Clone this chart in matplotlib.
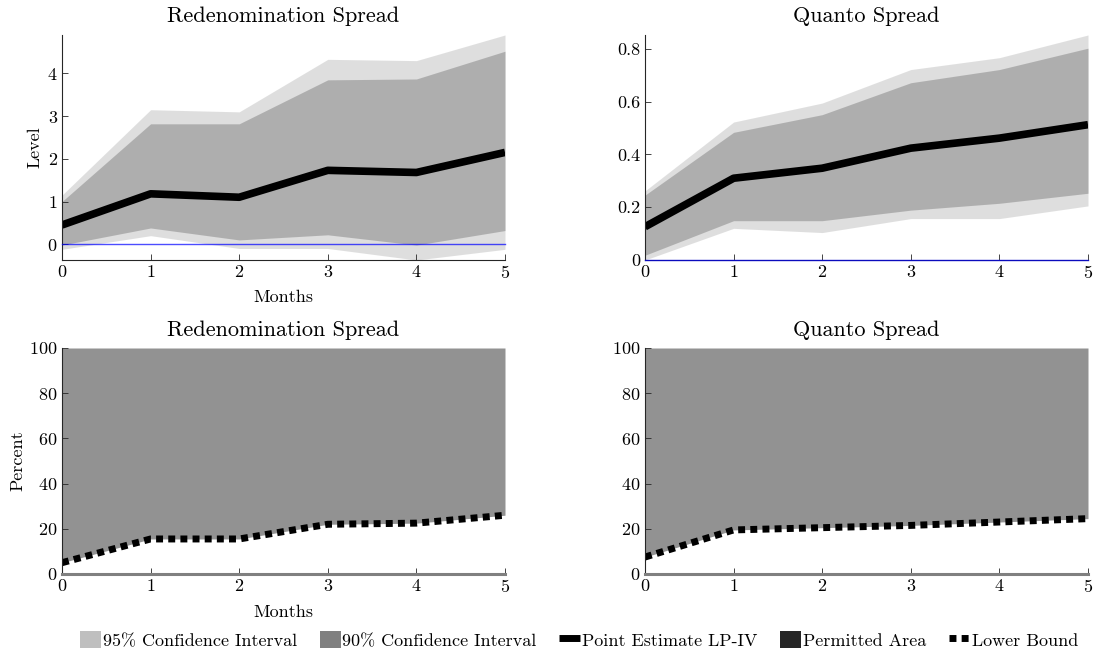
import matplotlib
matplotlib.use("Agg")
import matplotlib.pyplot as plt
from matplotlib.patches import Patch
from matplotlib.lines import Line2D
import numpy as np

plt.rcParams['font.family'] = 'serif'
plt.rcParams['font.serif'] = ['cmr10', 'DejaVu Serif']
plt.rcParams['mathtext.fontset'] = 'cm'
plt.rcParams['axes.formatter.use_mathtext'] = True

months = [0, 1, 2, 3, 4, 5]

# Redenomination spread (level)
redenom_point = [0.45, 1.18, 1.10, 1.73, 1.68, 2.15]
redenom_90_lo = [-0.02, 0.38, 0.10, 0.22, -0.02, 0.32]
redenom_90_hi = [1.00, 2.82, 2.82, 3.85, 3.87, 4.52]
redenom_95_lo = [-0.12, 0.20, -0.10, -0.10, -0.37, -0.12]
redenom_95_hi = [1.15, 3.15, 3.10, 4.33, 4.30, 4.90]

# Quanto spread (level)
quanto_point = [0.126, 0.310, 0.348, 0.424, 0.462, 0.513]
quanto_90_lo = [0.018, 0.149, 0.149, 0.189, 0.215, 0.253]
quanto_90_hi = [0.246, 0.484, 0.551, 0.672, 0.722, 0.803]
quanto_95_lo = [0.000, 0.120, 0.104, 0.157, 0.157, 0.205]
quanto_95_hi = [0.262, 0.523, 0.595, 0.722, 0.767, 0.853]

# Lower bounds (percent)
redenom_lb = [5.0, 15.5, 15.5, 22.0, 22.5, 26.0]
quanto_lb = [7.5, 19.5, 20.5, 21.5, 23.0, 24.5]

titles = ['Redenomination Spread', 'Quanto Spread']

c95 = (0.75, 0.75, 0.75)
c90 = (0.5, 0.5, 0.5)
cperm = (0.15, 0.15, 0.15)
spine_col = '#262626'
dot_dash = (1.0, 0.75)
fs = 13

fig = plt.figure(figsize=(10.94, 6.54), dpi=100)
ax_w = 443 / 1094
pos = {
    (0, 0): [62 / 1094, 1 - 260 / 654, ax_w, 225 / 654],
    (0, 1): [645 / 1094, 1 - 260 / 654, ax_w, 225 / 654],
    (1, 0): [62 / 1094, 1 - 574 / 654, ax_w, 226 / 654],
    (1, 1): [645 / 1094, 1 - 574 / 654, ax_w, 226 / 654],
}


def style(ax):
    for s in ['top', 'right']:
        ax.spines[s].set_visible(False)
    for s in ['left', 'bottom']:
        ax.spines[s].set_color(spine_col)
        ax.spines[s].set_linewidth(0.8)
    ax.tick_params(direction='in', length=4, width=0.6, colors=spine_col,
                   labelsize=fs, labelcolor='black', pad=3)
    ax.set_xlim(0, 5)
    ax.set_xticks(months)


top_data = [
    (redenom_point, redenom_90_lo, redenom_90_hi, redenom_95_lo, redenom_95_hi),
    (quanto_point, quanto_90_lo, quanto_90_hi, quanto_95_lo, quanto_95_hi),
]

for j, (pt, lo90, hi90, lo95, hi95) in enumerate(top_data):
    ax = fig.add_axes(pos[(0, j)])
    ax.fill_between(months, lo95, hi95, color=c95, alpha=0.5, lw=0)
    ax.fill_between(months, lo90, hi90, color=c90, alpha=0.5, lw=0)
    ax.plot(months, pt, color='black', lw=5.5, solid_capstyle='butt')
    ax.axhline(0, color='blue', lw=1, alpha=0.7, zorder=3, clip_on=False)
    style(ax)
    ax.set_ylim(min(lo95), max(hi95))
    ax.set_title(titles[j], fontsize=16, pad=9)
    if j == 0:
        ax.set_ylabel('Level', fontsize=fs, labelpad=3.5)
        ax.set_xlabel('Months', fontsize=fs, labelpad=6)
        ax.set_yticks([0, 1, 2, 3, 4])
    else:
        ax.set_yticks([0, 0.2, 0.4, 0.6, 0.8])
        ax.set_yticklabels(['0', '0.2', '0.4', '0.6', '0.8'])

for j, lb in enumerate([redenom_lb, quanto_lb]):
    ax = fig.add_axes(pos[(1, j)])
    ax.fill_between(months, lb, 100, color=cperm, alpha=0.5, lw=0)
    ax.plot(months, lb, color='black', lw=5, dashes=dot_dash,
            dash_capstyle='butt')
    ax.axhline(0, color='#808080', lw=2.2, zorder=3, clip_on=False)
    style(ax)
    ax.set_ylim(0, 100)
    ax.set_yticks([0, 20, 40, 60, 80, 100])
    ax.set_title(titles[j], fontsize=16, pad=9)
    if j == 0:
        ax.set_ylabel('Percent', fontsize=fs, labelpad=3)
        ax.set_xlabel('Months', fontsize=fs, labelpad=7)

handles = [
    Patch(facecolor=c95, edgecolor='none'),
    Patch(facecolor=c90, edgecolor='none'),
    Line2D([0], [0], color='black', lw=5, solid_capstyle='butt'),
    Patch(facecolor=cperm, edgecolor='none'),
    Line2D([0], [0], color='black', lw=5, dashes=dot_dash, dash_capstyle='butt'),
]
labels = ['95% Confidence Interval', '90% Confidence Interval',
          'Point Estimate LP-IV', 'Permitted Area', 'Lower Bound']
fig.legend(handles, labels, loc='center', bbox_to_anchor=(579 / 1094, 1 - 640 / 654),
           ncol=5, frameon=False, fontsize=fs, handlelength=1.17,
           handleheight=1.1, handletextpad=0.1, columnspacing=1.25,
           borderpad=0.1)

fig.savefig('out.png', dpi=100)
